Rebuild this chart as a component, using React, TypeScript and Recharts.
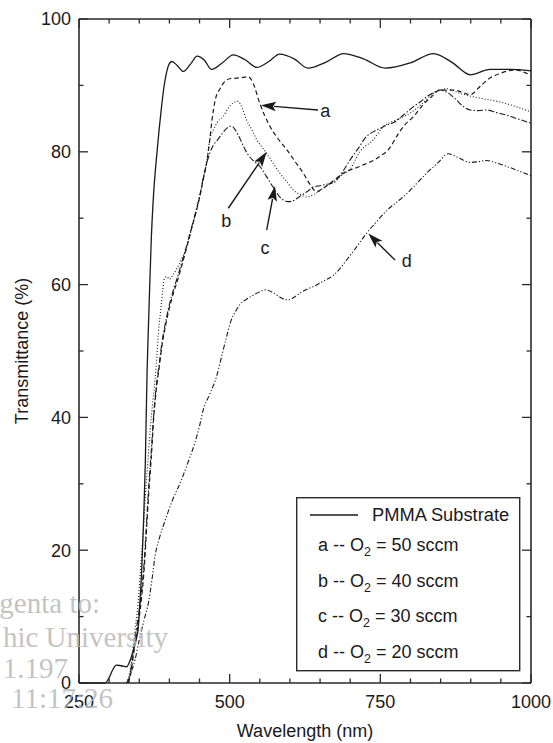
import React from 'react';
import { LineChart, Line, XAxis, YAxis, ReferenceLine, ReferenceDot } from 'recharts';

// wavelength (nm) / transmittance (%)
const pmmaWl = [250, 293, 300, 306, 312, 320, 329, 337, 342, 346, 348, 351, 354, 357, 360, 363, 366, 370, 373, 380, 387, 391, 395, 399, 404, 413, 423, 435, 446, 458, 470, 488, 506, 525, 545, 565, 583, 607, 630, 660, 689, 722, 758, 800, 838, 870, 899, 932, 965, 1000];
const pmmaT = [0, 0, 0.8, 2.0, 2.7, 2.6, 2.45, 4, 5.5, 7, 8, 12, 17, 24, 33, 47, 56, 67, 72.5, 80.5, 86.8, 89.8, 91.8, 93.1, 93.6, 93.0, 92.1, 93.2, 94.4, 93.8, 92.4, 93.4, 94.6, 93.9, 92.7, 93.6, 94.7, 94.0, 92.6, 93.5, 94.8, 94.0, 92.6, 93.4, 94.8, 93.4, 91.6, 92.4, 92.4, 92.2];

const aWl = [332, 336, 340, 345, 350, 354, 358, 362, 366, 370, 374, 378, 383, 388, 394, 400, 406, 413, 421, 429, 437, 445, 451, 456, 462, 467, 471, 476, 484, 492, 500, 512, 522, 531, 539, 550, 567, 580, 595, 608, 622, 634, 644, 655, 670, 689, 716, 749, 765, 777, 790, 805, 820, 835, 849, 871, 885, 899, 915, 930, 949, 963, 976, 988, 1000];
const aT = [0, 1.5, 4, 7, 10, 13, 17, 23, 29, 34, 40, 44, 47.5, 51, 54, 56.5, 58.5, 60.5, 63, 65.7, 68.5, 71.2, 73.5, 75.8, 78.5, 81.8, 85, 87.8, 89.5, 90.6, 91.0, 91.1, 91.2, 91.3, 90.3, 87.3, 83.8, 82, 80.3, 78.6, 76.8, 75, 74.0, 74.5, 75.5, 76.8, 77.8, 79.3, 80.5, 82.3, 84, 85.3, 87, 88.3, 89.3, 89.3, 89.0, 88.6, 89.8, 91, 91.8, 92.2, 92.3, 92.0, 91.5];

const bWl = [329, 334, 338, 343, 348, 352, 356, 360, 364, 368, 372, 376, 379, 382, 386, 389, 392, 396, 400, 406, 413, 421, 429, 437, 445, 451, 456, 462, 467, 473, 480, 489, 497, 505, 514, 521, 528, 537, 545, 553, 561, 572, 583, 595, 606, 617, 628, 640, 655, 672, 686, 700, 716, 738, 755, 777, 799, 820, 838, 860, 882, 904, 926, 949, 975, 1000];
const bT = [0, 1.5, 4, 8, 12, 17, 22, 28, 33, 38, 42, 45.5, 49, 53, 56.5, 59.2, 61, 61.2, 60.8, 61.5, 62.5, 64, 65.7, 68.5, 71.2, 73.5, 75.8, 78.5, 81.8, 83.3, 84.5, 85.3, 86.5, 87.3, 87.6, 86.5, 84.8, 83.3, 81.8, 80.8, 79.8, 78.3, 76.8, 75.5, 74.2, 73.6, 73.2, 73.6, 74.5, 75.5, 76.5, 77.4, 80, 81.8, 83.8, 84.8, 85.8, 87.3, 88.8, 89.5, 88.8, 88.3, 87.9, 87.5, 86.8, 86.0];

const cWl = [332, 336, 340, 345, 350, 354, 358, 362, 366, 370, 374, 378, 383, 388, 394, 400, 406, 413, 421, 429, 437, 445, 451, 456, 462, 467, 473, 480, 488, 496, 503, 510, 517, 523, 531, 540, 550, 561, 572, 583, 590, 597, 605, 612, 620, 630, 639, 650, 660, 672, 686, 700, 714, 727, 738, 749, 760, 772, 788, 805, 816, 827, 838, 849, 860, 874, 888, 899, 912, 926, 943, 960, 980, 1000];
const cT = [0, 2, 4.5, 8, 11, 14, 18, 24, 30, 35, 40.5, 44.5, 48, 51.5, 54.5, 57, 59, 61, 63.5, 66, 68.7, 71.4, 73.7, 76, 78.3, 79.8, 81, 81.8, 82.8, 83.6, 83.9, 83.2, 82, 80.8, 79.5, 78.6, 77.8, 76.3, 74.7, 73.2, 72.7, 72.5, 72.6, 73, 73.5, 74.1, 74.7, 74.9, 75.1, 75.3, 76.8, 78.8, 80.6, 82.3, 83.0, 83.5, 84.0, 84.4, 85.5, 86.8, 87.5, 88.3, 88.9, 89.3, 89.0, 88.0, 86.8, 86.3, 86.2, 86.3, 85.9, 85.5, 84.9, 84.3];

const dWl = [329, 336, 343, 350, 358, 365, 371, 376, 384, 393, 405, 420, 432, 442, 450, 456, 467, 478, 487, 495, 502, 510, 517, 528, 539, 549, 559, 570, 580, 590, 597, 607, 618, 628, 639, 655, 672, 683, 694, 710, 727, 744, 761, 777, 794, 810, 827, 845, 863, 880, 899, 912, 926, 943, 960, 980, 1000];
const dT = [0, 1.5, 3.5, 6.5, 9.5, 12, 15.5, 19, 22, 24.5, 27.5, 30.6, 33.5, 36.1, 38.7, 41.1, 43.5, 46.1, 49.3, 52.2, 54.5, 56, 57, 57.8, 58.4, 58.9, 59.2, 58.9, 58.3, 57.8, 57.7, 58.1, 58.8, 59.3, 59.7, 60.5, 61.4, 62.4, 63.7, 65.6, 67.7, 69.5, 71.2, 72.4, 73.7, 75.2, 76.8, 78.3, 79.7, 79.1, 78.4, 78.5, 78.7, 78.3, 77.8, 77.1, 76.4];

const xMajor = [250, 500, 750, 1000];
const xTicks = [250, 300, 350, 400, 450, 500, 550, 600, 650, 700, 750, 800, 850, 900, 950, 1000];
const yMajor = [0, 20, 40, 60, 80, 100];
const yTicks = [0, 10, 20, 30, 40, 50, 60, 70, 80, 90, 100];

// arrow annotations (data coords)
const arrowNames = ['a', 'b', 'c', 'd'];
const arrowTailX = [646.6, 497.7, 561.4, 774.3];
const arrowTailY = [86.3, 71.5, 68.2, 63.7];
const arrowHeadX = [552, 561.4, 575.2, 730];
const arrowHeadY = [87.0, 80.0, 74.85, 67.7];
const arrowLabelX = [658.7, 494.4, 558.6, 793.7];
const arrowLabelY = [85.3, 68.7, 64.6, 62.7];

const legendFlows = [50, 40, 30, 20];

const watermark = ['genta to:', 'hic University', '1.197', '11:17:26'];

const FONT = '"Liberation Sans", Arial, Helvetica, sans-serif';
const INK = '#1a1a1a';
const AXIS = '#2a2a2a';

const W = 553;
const H = 743;
const MARGIN = { top: 19, right: 22, bottom: 0, left: 0 };
const Y_AXIS_W = 79;
const X_AXIS_H = 60;
const PLOT_W = W - MARGIN.left - MARGIN.right - Y_AXIS_W;
const PLOT_H = H - MARGIN.top - MARGIN.bottom - X_AXIS_H;
const X_TICK_GAP = 12;
const Y_TICK_GAP = 8;

const toPts = (xs: number[], ys: number[]) => xs.map((x, i) => ({ x, y: ys[i] }));

const series = [
  { name: 'PMMA Substrate', data: toPts(pmmaWl, pmmaT), dash: undefined as string | undefined, w: 1.3 },
  { name: 'a', data: toPts(aWl, aT), dash: '4.5 3', w: 1.2 },
  { name: 'b', data: toPts(bWl, bT), dash: '1 2', w: 1.1 },
  { name: 'c', data: toPts(cWl, cT), dash: '6 2 1.5 2', w: 1.1 },
  { name: 'd', data: toPts(dWl, dT), dash: '5 2 1.2 2 1.2 2', w: 1.1 },
];

// inward ticks on both opposite edges, label only on the major ones
const XTick = (p: any) => {
  const v = p.payload.value;
  const x = p.x;
  const axisY = p.y - X_TICK_GAP;
  const len = xMajor.includes(v) ? 9 : 4.5;
  return (
    <g>
      <line x1={x} x2={x} y1={axisY} y2={axisY - len} stroke={AXIS} strokeWidth={1.3} />
      <line x1={x} x2={x} y1={axisY - PLOT_H} y2={axisY - PLOT_H + len} stroke={AXIS} strokeWidth={1.3} />
      {xMajor.includes(v) && (
        <text x={x} y={p.y} dy="0.72em" textAnchor="middle" fontSize={18} fill={INK}>
          {v}
        </text>
      )}
    </g>
  );
};

const YTick = (p: any) => {
  const v = p.payload.value;
  const y = p.y;
  const axisX = p.x + Y_TICK_GAP;
  const len = yMajor.includes(v) ? 9 : 4.5;
  return (
    <g>
      <line x1={axisX} x2={axisX + len} y1={y} y2={y} stroke={AXIS} strokeWidth={1.3} />
      <line x1={axisX + PLOT_W} x2={axisX + PLOT_W - len} y1={y} y2={y} stroke={AXIS} strokeWidth={1.3} />
      {yMajor.includes(v) && (
        <text x={p.x} y={y} dy="0.35em" textAnchor="end" fontSize={18} fill={INK}>
          {v}
        </text>
      )}
    </g>
  );
};

const Arrow = (p: any) => {
  const { x1, y1, x2, y2 } = p;
  const dx = x2 - x1;
  const dy = y2 - y1;
  const len = Math.hypot(dx, dy) || 1;
  const ux = dx / len;
  const uy = dy / len;
  const hl = 15;
  const hw = 4.8;
  const bx = x2 - ux * hl;
  const by = y2 - uy * hl;
  return (
    <g>
      <line x1={x1} y1={y1} x2={bx + ux * 2} y2={by + uy * 2} stroke={INK} strokeWidth={1.4} />
      <polygon
        points={`${x2},${y2} ${bx - uy * hw},${by + ux * hw} ${bx + ux * 3},${by + uy * 3} ${bx + uy * hw},${by - ux * hw}`}
        fill={INK}
      />
    </g>
  );
};

export default function App() {
  return (
    <div style={{ position: 'absolute', left: 0, top: 0, width: W, height: H, background: '#fff', fontFamily: FONT }}>
      <LineChart width={W} height={H} margin={MARGIN}>
        <XAxis
          type="number"
          dataKey="x"
          domain={[250, 1000]}
          ticks={xTicks}
          interval={0}
          height={X_AXIS_H}
          tickLine={false}
          tickSize={0}
          tickMargin={X_TICK_GAP}
          axisLine={{ stroke: AXIS, strokeWidth: 1.6 }}
          tick={XTick}
          label={{
            content: (props: any) => {
              const vb = props.viewBox;
              return (
                <text x={vb.x + vb.width / 2} y={vb.y + 54} textAnchor="middle" fontSize={18} fill={INK}>
                  Wavelength (nm)
                </text>
              );
            },
          }}
        />
        <YAxis
          type="number"
          domain={[0, 100]}
          ticks={yTicks}
          interval={0}
          width={Y_AXIS_W}
          tickLine={false}
          tickSize={0}
          tickMargin={Y_TICK_GAP}
          axisLine={{ stroke: AXIS, strokeWidth: 1.6 }}
          tick={YTick}
          label={{
            content: (props: any) => {
              const vb = props.viewBox;
              const cx = vb.x + 22;
              const cy = vb.y + vb.height / 2;
              return (
                <text x={cx} y={cy} textAnchor="middle" dominantBaseline="central" fontSize={18} fill={INK} transform={`rotate(-90 ${cx} ${cy})`}>
                  Transmittance (%)
                </text>
              );
            },
          }}
        />
        {/* frame: top and right edges */}
        <ReferenceLine y={100} stroke={AXIS} strokeWidth={1.6} ifOverflow="visible" />
        <ReferenceLine x={1000} stroke={AXIS} strokeWidth={1.6} ifOverflow="visible" />

        {series.map((s) => (
          <Line
            key={s.name}
            data={s.data}
            dataKey="y"
            type="monotone"
            stroke={INK}
            strokeWidth={s.w}
            strokeDasharray={s.dash}
            dot={false}
            activeDot={false}
            isAnimationActive={false}
          />
        ))}

        {arrowNames.map((n, i) => (
          <ReferenceLine
            key={`arr-${n}`}
            segment={[
              { x: arrowTailX[i], y: arrowTailY[i] },
              { x: arrowHeadX[i], y: arrowHeadY[i] },
            ]}
            ifOverflow="visible"
            shape={Arrow}
          />
        ))}
        {arrowNames.map((n, i) => (
          <ReferenceDot
            key={`lab-${n}`}
            x={arrowLabelX[i]}
            y={arrowLabelY[i]}
            ifOverflow="visible"
            shape={(p: any) => (
              <text x={p.cx} y={p.cy} textAnchor="middle" fontSize={18} fill={INK}>
                {n}
              </text>
            )}
          />
        ))}
      </LineChart>

      {/* legend */}
      <svg style={{ position: 'absolute', left: 296, top: 497 }} width={226} height={176}>
        <rect x={0.7} y={0.7} width={223} height={173} fill="#fff" stroke={AXIS} strokeWidth={1.4} />
        <line x1={14} x2={62} y1={18} y2={18} stroke={INK} strokeWidth={1.3} />
        <text x={76} y={24} fontSize={18.3} fill={INK}>PMMA Substrate</text>
        {arrowNames.map((n, i) => (
          <text key={n} x={22} y={54 + i * 35.7} fontSize={18} fill={INK}>
            {`${n} -- O`}
            <tspan fontSize={12.5} dy={5}>2</tspan>
            <tspan dy={-5}>{` = ${legendFlows[i]} sccm`}</tspan>
          </text>
        ))}
      </svg>

      {/* scan watermark */}
      <svg style={{ position: 'absolute', left: 0, top: 0, pointerEvents: 'none' }} width={W} height={H}>
        {watermark.map((t, i) => (
          <text
            key={t}
            x={[100, 168, 68, 113][i]}
            y={[613, 647, 678, 708][i]}
            textAnchor="end"
            fontFamily='"Liberation Serif", "DejaVu Serif", serif'
            fontSize={29}
            fill="#b8b8b8"
            fillOpacity={0.85}
          >
            {t}
          </text>
        ))}
      </svg>
    </div>
  );
}
